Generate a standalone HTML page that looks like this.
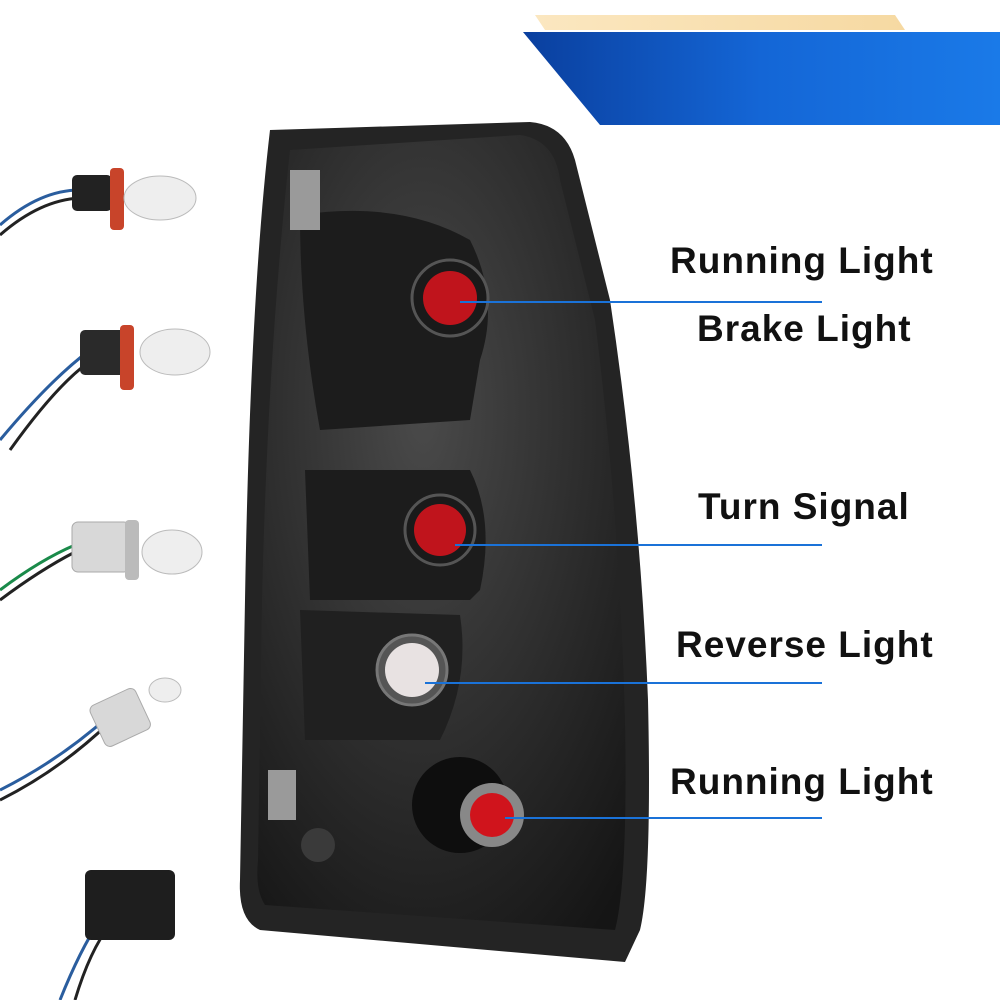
<!DOCTYPE html>
<html><head><meta charset="utf-8"><style>
html,body{margin:0;padding:0;background:#fff;}
.wrap{position:relative;width:1000px;height:1000px;overflow:hidden;background:#fff;font-family:"Liberation Sans",sans-serif;}
.lbl{position:absolute;font-size:37px;font-weight:bold;color:#111;white-space:nowrap;letter-spacing:1px;}
</style></head><body><div class="wrap">
<svg width="1000" height="1000" style="position:absolute;left:0;top:0">
<defs>
<linearGradient id="bl" x1="0" x2="1"><stop offset="0" stop-color="#0a3f9e"/><stop offset="0.5" stop-color="#1466d6"/><stop offset="1" stop-color="#1a7ae8"/></linearGradient>
<linearGradient id="yl" x1="0" x2="1"><stop offset="0" stop-color="#fbe7c0"/><stop offset="1" stop-color="#f6d9a2"/></linearGradient>
<radialGradient id="hs" cx="0.45" cy="0.35" r="0.8"><stop offset="0" stop-color="#4a4a4a"/><stop offset="0.6" stop-color="#2a2a2a"/><stop offset="1" stop-color="#151515"/></radialGradient>
</defs>
<polygon points="535,15 895,15 905,30 545,30" fill="url(#yl)"/>
<polygon points="523,32 1000,32 1000,125 600,125" fill="url(#bl)"/>
<path d="M270,130 L530,122 Q565,125 575,160 L610,300 Q640,500 648,700 Q652,880 640,930 L625,962 L260,930 Q238,920 240,880 L245,600 Q250,300 270,130 Z" fill="#242424"/>
<path d="M290,150 L520,135 Q555,140 560,180 L595,320 Q620,520 625,720 Q628,880 615,930 L265,905 Q255,890 258,860 L262,600 Q268,350 290,150 Z" fill="url(#hs)"/>
<path d="M300,215 Q400,200 470,240 Q500,300 480,360 L470,420 L320,430 Q300,320 300,215 Z" fill="#1c1c1c"/>
<path d="M305,470 L470,470 Q495,520 480,590 L470,600 L310,600 Z" fill="#1c1c1c"/>
<path d="M300,610 L460,615 Q470,680 440,740 L305,740 Z" fill="#202020"/>
<rect x="290" y="170" width="30" height="60" fill="#9a9a9a"/>
<rect x="268" y="770" width="28" height="50" fill="#9a9a9a"/>
<circle cx="318" cy="845" r="17" fill="#3a3a3a"/>
<circle cx="450" cy="298" r="38" fill="#1a1a1a" stroke="#555" stroke-width="3"/>
<circle cx="450" cy="298" r="27" fill="#c0141c"/>
<circle cx="440" cy="530" r="35" fill="#1a1a1a" stroke="#555" stroke-width="3"/>
<circle cx="440" cy="530" r="26" fill="#c0141c"/>
<circle cx="412" cy="670" r="35" fill="#555" stroke="#777" stroke-width="3"/>
<circle cx="412" cy="670" r="27" fill="#e8e2e2"/>
<circle cx="460" cy="805" r="48" fill="#0e0e0e"/>
<circle cx="492" cy="815" r="32" fill="#888"/>
<circle cx="492" cy="815" r="22" fill="#d0141c"/>
<g stroke="#1a72d8" stroke-width="2">
<line x1="460" y1="302" x2="822" y2="302"/>
<line x1="455" y1="545" x2="822" y2="545"/>
<line x1="425" y1="683" x2="822" y2="683"/>
<line x1="505" y1="818" x2="822" y2="818"/>
</g>
<g fill="none" stroke-width="3">
<path d="M0,225 Q40,190 80,190" stroke="#2a5d9e"/><path d="M0,235 Q40,200 80,198" stroke="#222"/>
<path d="M0,440 Q50,380 90,350" stroke="#2a5d9e"/><path d="M10,450 Q60,380 95,358" stroke="#222"/>
<path d="M0,590 Q40,560 75,545" stroke="#1a8a4a"/><path d="M0,600 Q40,570 75,552" stroke="#222"/>
<path d="M0,790 Q60,760 110,715" stroke="#2a5d9e"/><path d="M0,800 Q60,770 110,722" stroke="#222"/>
<path d="M60,1000 Q80,950 100,920" stroke="#2a5d9e"/><path d="M75,1000 Q90,950 110,925" stroke="#222"/>
</g>
<rect x="72" y="175" width="40" height="36" rx="5" fill="#222"/><rect x="110" y="168" width="14" height="62" rx="4" fill="#c8442a"/>
<ellipse cx="160" cy="198" rx="36" ry="22" fill="#eeeeee" stroke="#bbb"/>
<rect x="80" y="330" width="45" height="45" rx="5" fill="#2a2a2a"/><rect x="120" y="325" width="14" height="65" rx="4" fill="#c8442a"/>
<ellipse cx="175" cy="352" rx="35" ry="23" fill="#eeeeee" stroke="#bbb"/>
<rect x="72" y="522" width="58" height="50" rx="6" fill="#d8d8d8" stroke="#aaa"/><rect x="125" y="520" width="14" height="60" rx="4" fill="#bbb"/>
<ellipse cx="172" cy="552" rx="30" ry="22" fill="#eeeeee" stroke="#bbb"/>
<rect x="95" y="695" width="50" height="45" rx="6" fill="#d8d8d8" stroke="#aaa" transform="rotate(-25 120 717)"/>
<ellipse cx="165" cy="690" rx="16" ry="12" fill="#eeeeee" stroke="#bbb"/>
<rect x="85" y="870" width="90" height="70" rx="6" fill="#1e1e1e"/>
</svg>
<div class="lbl" style="left:670px;top:240px">Running Light</div>
<div class="lbl" style="left:697px;top:308px">Brake Light</div>
<div class="lbl" style="left:698px;top:486px">Turn Signal</div>
<div class="lbl" style="left:676px;top:624px">Reverse Light</div>
<div class="lbl" style="left:670px;top:761px">Running Light</div>
</div></body></html>
